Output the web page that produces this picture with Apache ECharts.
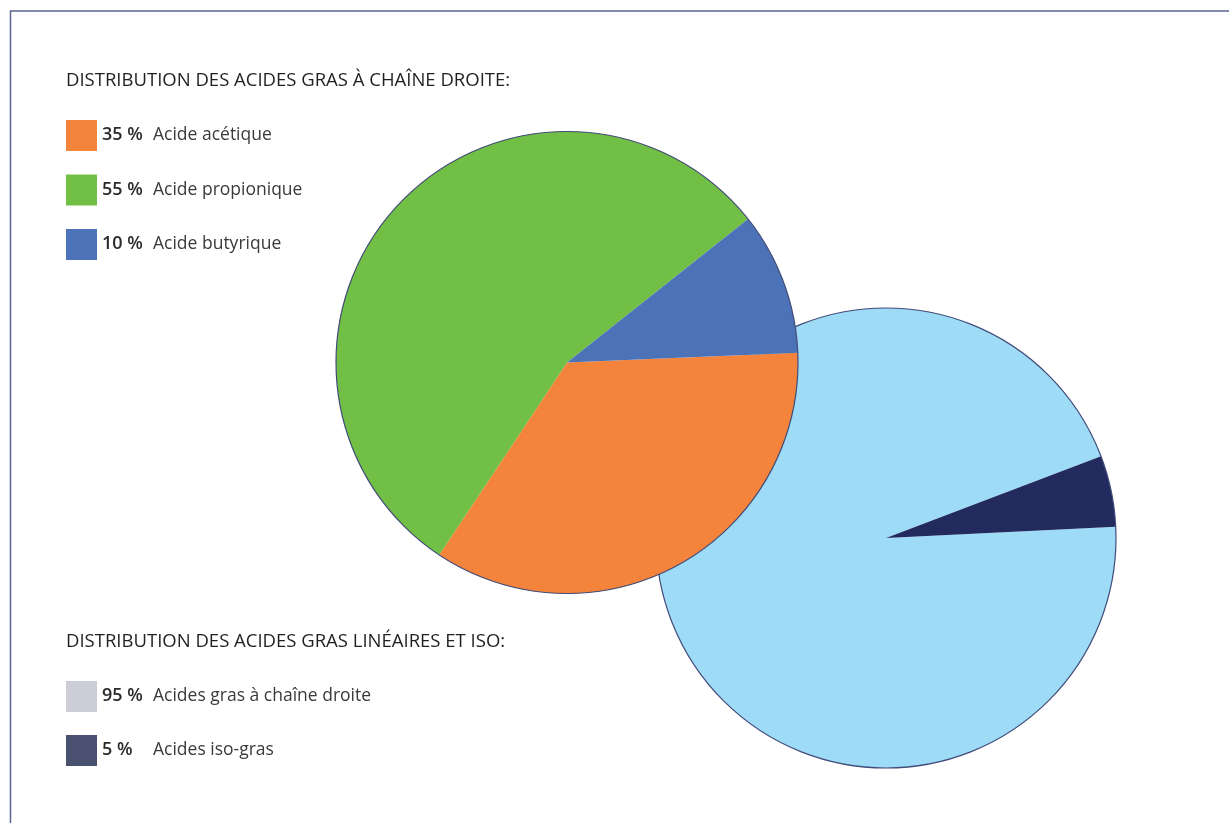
<!DOCTYPE html>
<html>
<head>
<meta charset="utf-8">
<script src="https://cdn.jsdelivr.net/npm/echarts@6/dist/echarts.min.js"></script>
<style>
  html, body { margin: 0; padding: 0; background: #fff; }
  #chart { width: 1229px; height: 823px; }
</style>
</head>
<body>
<div id="chart"></div>
<script>
// straight chain acids
const chainNames = ["Acide acétique", "Acide propionique", "Acide butyrique"];
const chainValues = [35, 55, 10];
const chainColors = ["#F4833B", "#72BF45", "#4C72B7"];

// linear vs iso acids
const isoNames = ["Acides gras à chaîne droite", "Acides iso-gras"];
const isoValues = [95, 5];
const isoColors = ["#9DDBF6", "#222A5E"];
const isoLegendColors = ["#CDCDD8", "#4A5070"];

const titles = [
  "DISTRIBUTION DES ACIDES GRAS À CHAÎNE DROITE:",
  "DISTRIBUTION DES ACIDES GRAS LINÉAIRES ET ISO:",
];

const font = "'Open Sans', sans-serif";
const outline = "#414B78";

const valueOf = {};
chainNames.forEach((n, i) => (valueOf[n] = chainValues[i]));
isoNames.forEach((n, i) => (valueOf[n] = isoValues[i]));

const legendText = {
  rich: {
    p: { fontFamily: font, fontSize: 18, fontWeight: 600, color: "#2b2b2b", width: 51, padding: [0, 0, 1, 0] },
    n: { fontFamily: font, fontSize: 17.5, color: "#3a3a3a" },
  },
};

const chart = echarts.init(document.getElementById("chart"));
chart.setOption({
  animation: false,
  title: titles.map((t, i) => ({
    text: t,
    left: 66,
    top: i === 0 ? 71 : 632,
    padding: 0,
    textStyle: { fontFamily: font, fontSize: 18.5, fontWeight: "normal", color: "#231F20" },
  })),
  legend: [
    {
      data: chainNames.map((n, i) => ({ name: n, itemStyle: { color: chainColors[i] } })),
      orient: "vertical",
      left: 66,
      top: 120,
      padding: 0,
      itemWidth: 31,
      itemHeight: 31,
      itemGap: 23.5,
      icon: "rect",
      selectedMode: false,
      formatter: (n) => `{p|${valueOf[n]} %}{n|${n}}`,
      textStyle: legendText,
    },
    {
      data: isoNames.map((n, i) => ({ name: n, itemStyle: { color: isoLegendColors[i] } })),
      orient: "vertical",
      left: 66,
      top: 681,
      padding: 0,
      itemWidth: 31,
      itemHeight: 31,
      itemGap: 23,
      icon: "rect",
      selectedMode: false,
      formatter: (n) => `{p|${valueOf[n]} %}{n|${n}}`,
      textStyle: legendText,
    },
  ],
  graphic: [
    {
      type: "polyline",
      shape: { points: [[10.5, 823], [10.5, 11], [1229, 11]] },
      style: { stroke: "#5A6690", lineWidth: 1.5, fill: null },
    },
  ],
  series: [
    {
      type: "pie",
      center: [886, 538],
      radius: 230,
      startAngle: 2.8,
      label: { show: false },
      silent: true,
      data: isoNames.map((n, i) => ({ name: n, value: isoValues[i], itemStyle: { color: isoColors[i] } })),
    },
    {
      type: "pie",
      center: [886, 538],
      radius: 230,
      label: { show: false },
      silent: true,
      data: [{ name: "outline-iso", value: 100, itemStyle: { color: "rgba(0,0,0,0)", borderColor: outline, borderWidth: 1.2 } }],
    },
    {
      type: "pie",
      center: [567, 362.5],
      radius: 231,
      startAngle: 2.4,
      label: { show: false },
      silent: true,
      data: chainNames.map((n, i) => ({ name: n, value: chainValues[i], itemStyle: { color: chainColors[i] } })),
    },
    {
      type: "pie",
      center: [567, 362.5],
      radius: 231,
      label: { show: false },
      silent: true,
      data: [{ name: "outline-chain", value: 100, itemStyle: { color: "rgba(0,0,0,0)", borderColor: outline, borderWidth: 1.2 } }],
    },
  ],
});
</script>
</body>
</html>
